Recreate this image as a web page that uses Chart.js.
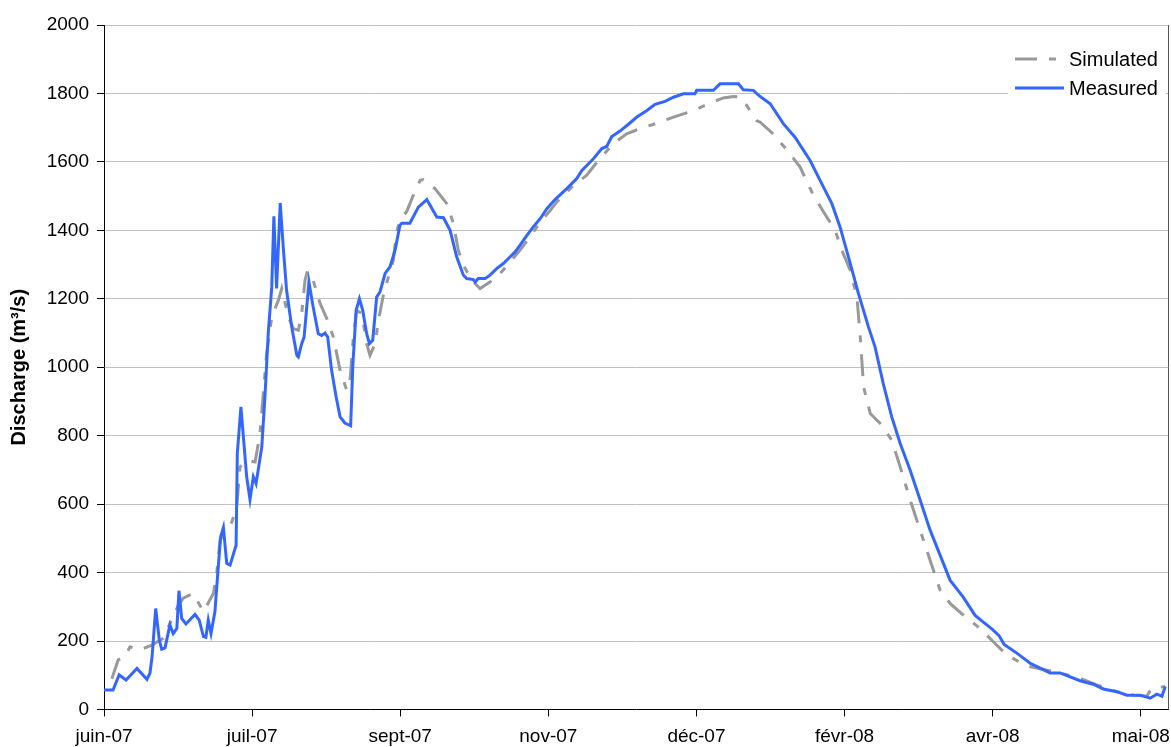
<!DOCTYPE html>
<html><head><meta charset="utf-8">
<script src="https://cdn.jsdelivr.net/npm/chart.js@4.4.0/dist/chart.umd.min.js"></script>
<style>html,body{margin:0;padding:0;background:#fff}#wrap{width:1171px;height:747px}</style>
</head><body><div id="wrap"><canvas id="c" width="1171" height="747"></canvas></div>
<script>
// Tick labels on the date axis (days since first sample)
const tickLabels = ['juin-07','juil-07','sept-07','nov-07','déc-07','févr-08','avr-08','mai-08'];
const tickDays = [0,49,98,147,196,245,294,343];
const axisMaxDay = 352;

const measuredDays = [0,3.0,5.0,7.3,10.9,14.2,15.2,15.9,17.1,18.3,19.1,20.2,21.8,22.9,24.1,24.8,25.7,27.1,30.1,31.5,32.9,33.7,34.5,35.4,36.7,37.8,38.6,39.5,40.6,41.7,43.7,44.1,45.3,47.2,48.3,49.4,50.3,52.2,53.3,54.4,55.5,56.2,57.1,58.3,59.3,60.4,62.1,63.8,64.3,65.4,66.2,67.8,69.2,70.9,72.0,73.1,74.0,75.3,76.8,78.1,79.7,81.6,82.3,83.4,84.5,85.6,86.9,87.8,88.9,90.2,91.3,93.0,94.6,96.3,97.9,98.5,101.2,104.0,106.8,110.1,112.3,114.5,116.7,118.9,120.0,122.2,122.8,123.8,126.1,127.7,129.9,132.1,134.3,136.0,137.6,139.9,142.0,144.3,146.5,149.2,153.1,156.4,158.1,161.9,164.7,166.3,168.0,170.7,173.5,176.3,179.6,182.3,185.6,188.4,191.7,195.5,196.1,201.6,203.8,209.9,211.5,214.8,217.1,220.4,224.8,228.6,233.6,236.9,240.8,243.5,246.3,249.6,252.9,255.1,257.8,260.6,263.4,266.7,270.0,273.3,276.6,279.9,284.2,288.2,290.8,293.8,296.1,297.8,302.1,306.4,313.0,316.3,322.9,327.3,330.6,335.1,338.4,342.8,346.1,348.3,350.0,351.1];
const measuredValues = [57,57,101,86,120,88,106,154,295,203,176,180,247,222,237,347,266,250,278,261,213,211,261,222,286,417,505,532,427,422,480,748,884,680,614,680,660,767,923,1108,1234,1441,1230,1480,1351,1225,1118,1035,1030,1069,1088,1249,1176,1098,1093,1100,1088,991,913,855,837,829,1001,1166,1200,1166,1098,1069,1079,1205,1220,1274,1293,1342,1415,1421,1421,1468,1490,1439,1437,1400,1322,1269,1259,1256,1249,1259,1259,1269,1288,1303,1322,1337,1356,1385,1410,1434,1463,1490,1522,1551,1575,1609,1639,1645,1674,1690,1710,1731,1750,1768,1777,1789,1799,1799,1809,1809,1828,1828,1811,1809,1791,1770,1711,1672,1604,1546,1478,1410,1322,1215,1118,1059,952,855,777,699,612,524,451,378,329,275,256,235,216,190,164,135,107,107,84,74,60,52,42,42,33,45,39,67];

const simulatedDays = [2.6,4.7,6.9,8.6,11.9,15.8,19.6,24.6,26.2,29.5,30.7,32.9,36.2,37.3,38.4,42.3,43.9,45.0,47.2,50.0,51.6,52.7,53.8,55.5,57.7,58.8,61.0,62.6,64.3,65.4,66.5,67.3,69.2,71.5,73.7,75.9,78.1,80.3,81.4,82.5,83.6,85.3,86.9,88.0,89.7,90.8,92.4,94.1,95.7,96.8,97.9,100.2,102.3,104.6,105.6,109.5,113.4,115.6,117.2,118.9,121.7,124.4,127.7,131.0,134.3,137.6,140.9,144.3,147.6,149.8,155.3,159.7,163.5,168.5,172.9,177.3,182.9,188.4,195.0,200.5,204.9,208.2,210.4,212.6,216.0,217.1,221.4,225.9,230.3,234.7,239.1,241.9,244.1,246.9,249.1,250.2,251.3,253.5,257.3,260.6,263.4,266.7,270.0,273.3,276.6,279.9,284.3,289.8,294.2,298.7,305.3,310.8,316.3,322.9,328.4,335.1,340.6,345.0,346.6,351.1];
const simulatedValues = [90,145,154,183,174,188,208,305,325,339,320,286,339,398,495,548,592,709,728,723,806,923,1040,1147,1196,1230,1147,1113,1108,1157,1254,1281,1254,1186,1142,1088,991,933,962,1088,1166,1157,1069,1035,1069,1137,1210,1264,1312,1395,1429,1456,1502,1546,1548,1522,1478,1420,1342,1298,1254,1230,1249,1274,1307,1342,1380,1424,1458,1483,1531,1561,1604,1653,1682,1697,1713,1731,1750,1772,1787,1791,1790,1765,1720,1716,1682,1635,1585,1502,1439,1400,1342,1283,1205,1088,942,865,831,787,709,612,524,436,349,310,276,237,198,159,127,117,107,91,72,52,42,39,62,67];

const seriesLabels = ['Simulated','Measured'];
const yTitle = 'Discharge (m³/s)';

const toXY = (xs, ys) => xs.map((x, i) => ({x: x, y: ys[i]}));
const FONT = "'Liberation Sans', Arial, sans-serif";

const legendPlugin = {
  id: 'customLegend',
  afterDatasetsDraw(chart) {
    const ctx = chart.ctx;
    ctx.save();
    ctx.fillStyle = '#fff';
    ctx.fillRect(1008, 44, 158, 60);
    const items = [
      {ds: chart.data.datasets[1], y: 59},
      {ds: chart.data.datasets[0], y: 88}
    ];
    items.forEach(it => {
      ctx.beginPath();
      ctx.strokeStyle = it.ds.borderColor;
      ctx.lineWidth = it.ds.borderWidth;
      ctx.setLineDash(it.ds.borderDash || []);
      ctx.moveTo(1015, it.y);
      ctx.lineTo(1064, it.y);
      ctx.stroke();
      ctx.setLineDash([]);
      ctx.fillStyle = '#000';
      ctx.font = '20px ' + FONT;
      ctx.textBaseline = 'middle';
      ctx.textAlign = 'left';
      ctx.fillText(it.ds.label, 1069, it.y + 1);
    });
    // right plot border
    const a = chart.chartArea;
    ctx.beginPath();
    ctx.strokeStyle = '#555';
    ctx.lineWidth = 1;
    ctx.moveTo(Math.round(a.right) + 0.5, a.top);
    ctx.lineTo(Math.round(a.right) + 0.5, a.bottom);
    ctx.stroke();
    ctx.restore();
  }
};

new Chart(document.getElementById('c'), {
  type: 'line',
  data: {
    datasets: [
      {label: seriesLabels[1], data: toXY(measuredDays, measuredValues), borderColor: '#3366FF', borderWidth: 3, pointRadius: 0, tension: 0, fill: false},
      {label: seriesLabels[0], data: toXY(simulatedDays, simulatedValues), borderColor: '#999999', borderWidth: 3, borderDash: [22,12,7,12], pointRadius: 0, tension: 0, fill: false}
    ]
  },
  options: {
    responsive: false, animation: false, devicePixelRatio: 1,
    layout: {padding: {top: 25, right: 3, left: 0, bottom: 0}},
    plugins: {legend: {display: false}, tooltip: {enabled: false}},
    scales: {
      x: {
        type: 'linear', min: 0, max: axisMaxDay,
        afterBuildTicks: s => { s.ticks = tickDays.map(v => ({value: v})); },
        afterFit: s => { s.height = 37.5; s.paddingRight = 0; s.paddingLeft = 0; },
        ticks: {autoSkip: false, maxRotation: 0, color: '#000', padding: 9,
          font: {size: 19, family: FONT},
          callback: v => tickLabels[tickDays.indexOf(v)]},
        grid: {drawOnChartArea: false, drawTicks: true, tickLength: 7, tickColor: '#000'},
        border: {color: '#000', width: 1}
      },
      y: {
        min: 0, max: 2000,
        afterFit: s => { s.width = 104; s.paddingTop = 0; s.paddingBottom = 0; },
        ticks: {stepSize: 200, color: '#000', padding: 8, font: {size: 19, family: FONT},
          callback: v => String(v)},
        grid: {color: '#c0c0c0', lineWidth: 1, tickLength: 7, tickColor: '#000'},
        border: {color: '#000', width: 1},
        title: {display: true, text: yTitle, color: '#000', font: {size: 20, weight: 'bold', family: FONT}, padding: {top: 7, bottom: 0}}
      }
    }
  },
  plugins: [legendPlugin]
});
</script>
</body></html>
